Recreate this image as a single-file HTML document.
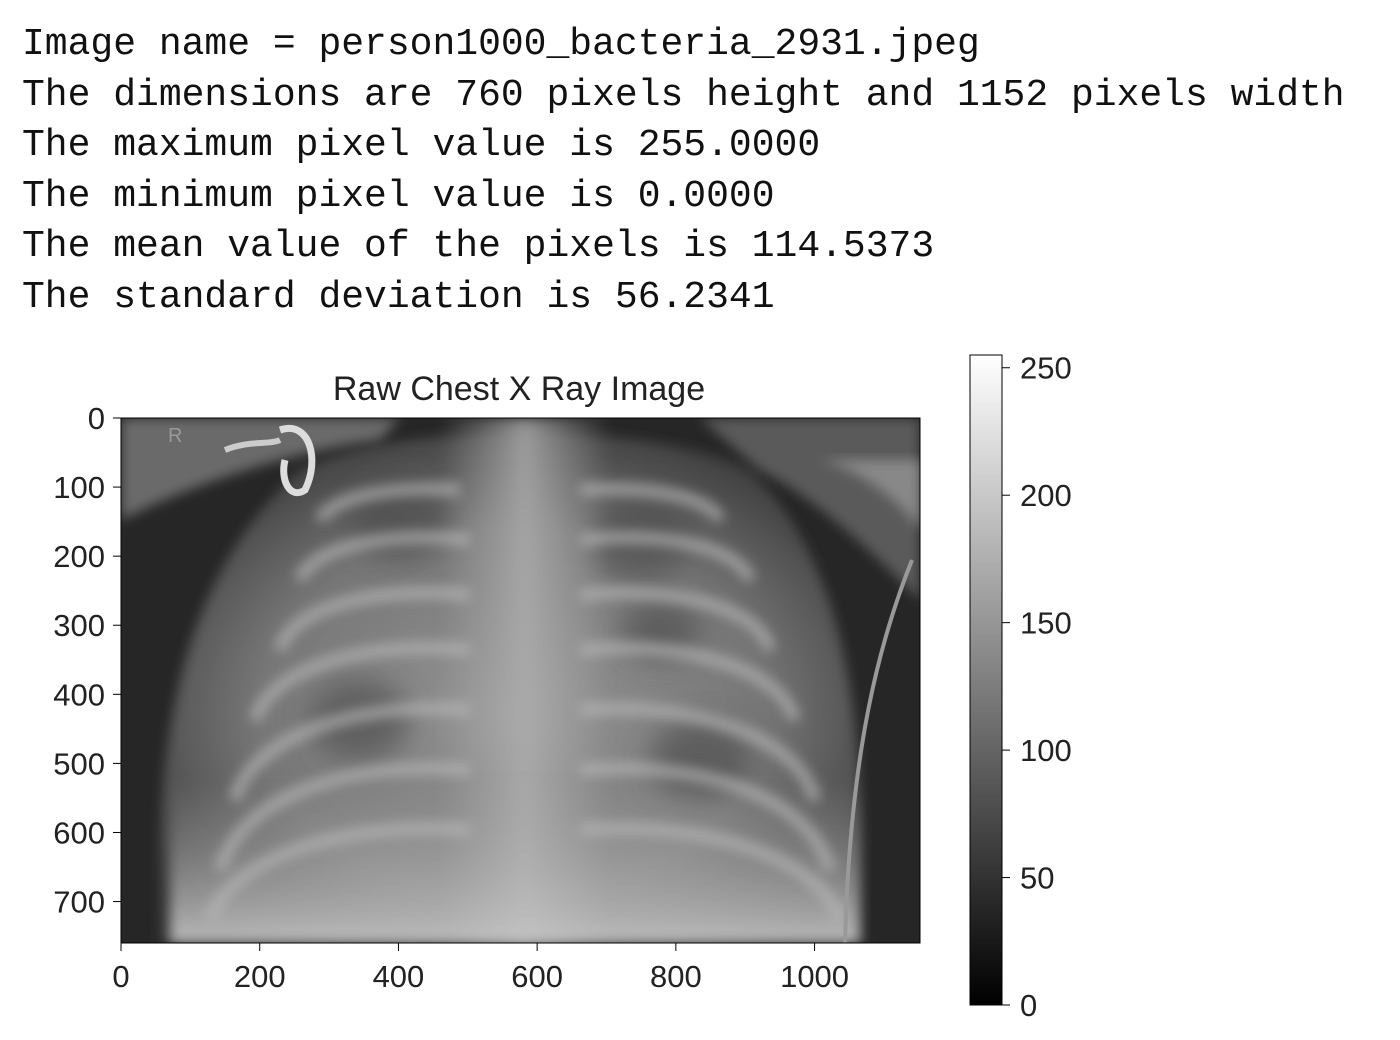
<!DOCTYPE html>
<html><head><meta charset="utf-8"><style>
html,body{margin:0;padding:0;background:#fff;width:1400px;height:1040px;overflow:hidden}
#info{position:absolute;left:22px;top:20px;font-family:"Liberation Mono",monospace;font-size:38px;line-height:50.6px;color:#111;white-space:pre}
svg{position:absolute;left:0;top:0}
</style></head><body>
<div id="info"><div>Image name = person1000_bacteria_2931.jpeg</div><div>The dimensions are 760 pixels height and 1152 pixels width</div><div>The maximum pixel value is 255.0000</div><div>The minimum pixel value is 0.0000</div><div>The mean value of the pixels is 114.5373</div><div>The standard deviation is 56.2341</div></div>
<svg id="chart" width="1400" height="1040">
<defs>
<linearGradient id="cbar" x1="0" y1="1" x2="0" y2="0"><stop offset="0" stop-color="#000"/><stop offset="1" stop-color="#fff"/></linearGradient>
<radialGradient id="body" cx="0.5" cy="0.55" r="0.6"><stop offset="0" stop-color="#959595"/><stop offset="0.6" stop-color="#767676"/><stop offset="1" stop-color="#3a3a3a"/></radialGradient>
<linearGradient id="abd" x1="0" y1="0" x2="0" y2="1"><stop offset="0" stop-color="#b0b0b0" stop-opacity="0"/><stop offset="1" stop-color="#c8c8c8" stop-opacity="0.9"/></linearGradient>
<linearGradient id="med" x1="0" y1="0" x2="1" y2="0"><stop offset="0" stop-color="#aaa" stop-opacity="0"/><stop offset="0.5" stop-color="#b0b0b0" stop-opacity="0.8"/><stop offset="1" stop-color="#aaa" stop-opacity="0"/></linearGradient>
<clipPath id="imgclip"><rect x="121" y="418" width="799" height="525"/></clipPath>
<filter id="blur"><feGaussianBlur stdDeviation="6"/></filter>
<filter id="blur2"><feGaussianBlur stdDeviation="14"/></filter>
</defs>
<g id="xray" clip-path="url(#imgclip)">
<rect x="121" y="418" width="799" height="525" fill="#262626"/>
<path d="M160 943 C150 700 200 560 300 470 C400 420 650 420 750 470 C840 560 870 700 860 943 Z" fill="url(#body)" filter="url(#blur)"/>
<path d="M121 418 L121 520 C200 480 300 450 380 440 L400 418 Z" fill="#6a6a6a" filter="url(#blur)"/>
<path d="M700 418 L760 470 C820 500 880 560 920 600 L920 418 Z" fill="#5a5a5a" filter="url(#blur)"/>
<path d="M820 460 C860 470 900 500 920 530 L920 460 Z" fill="#888" filter="url(#blur)"/>
<g fill="#4a4a4a" opacity="0.6" filter="url(#blur2)">
<ellipse cx="400" cy="520" rx="50" ry="40"/><ellipse cx="640" cy="540" rx="50" ry="40"/>
<ellipse cx="660" cy="630" rx="40" ry="30"/><ellipse cx="360" cy="720" rx="50" ry="40"/>
<ellipse cx="700" cy="760" rx="50" ry="40"/>
</g>
<rect x="440" y="418" width="170" height="525" fill="url(#med)" filter="url(#blur)"/>
<rect x="170" y="780" width="690" height="163" fill="url(#abd)" filter="url(#blur)"/>
<g stroke="#b8b8b8" stroke-width="12" fill="none" opacity="0.7" filter="url(#blur)">
<path d="M460 490 C380 485 330 500 320 520"/><path d="M470 540 C380 530 310 550 300 580"/>
<path d="M470 595 C370 585 290 610 280 650"/><path d="M470 650 C360 640 270 670 255 720"/>
<path d="M470 710 C350 700 250 740 235 800"/><path d="M470 770 C340 760 240 800 220 870"/>
<path d="M470 830 C340 820 230 860 210 920"/>
<path d="M580 490 C660 485 710 500 720 520"/><path d="M580 540 C670 530 740 550 750 580"/>
<path d="M580 595 C680 585 760 610 770 650"/><path d="M580 650 C690 640 780 670 795 720"/>
<path d="M580 710 C700 700 800 740 815 800"/><path d="M580 770 C710 760 810 800 830 870"/>
<path d="M580 830 C710 820 820 860 840 920"/>
</g>
<path d="M280 430 C310 420 320 460 305 490 C290 500 280 480 285 460" stroke="#ddd" stroke-width="7" fill="none"/>
<path d="M225 450 C250 440 270 445 280 440" stroke="#ccc" stroke-width="6" fill="none"/>
<path d="M912 560 C880 640 850 750 845 943" stroke="#999" stroke-width="4" fill="none"/>
<text x="168" y="442" font-family="Liberation Sans,sans-serif" font-size="20" fill="#999">R</text>
</g>
<rect x="121" y="418" width="799" height="525" fill="none" stroke="#000" stroke-width="1"/>
<text x="519" y="400" text-anchor="middle" font-family="Liberation Sans,sans-serif" font-size="34" fill="#222">Raw Chest X Ray Image</text>
<rect x="970" y="355" width="32" height="650" fill="url(#cbar)" stroke="#000" stroke-width="1"/>
<g id="axes"></g>
</svg>
<script>
const xTicks=[0,200,400,600,800,1000];
const yTicks=[0,100,200,300,400,500,600,700];
const cbTicks=[0,50,100,150,200,250];
const imgW=1152, imgH=760, cbMax=255;
const X0=121,X1=920,Y0=418,Y1=943,CB0=1005,CB1=355;
const xs=v=>X0+v/imgW*(X1-X0), ys=v=>Y0+v/imgH*(Y1-Y0), cs=v=>CB0-v/cbMax*(CB0-CB1);
const g=document.getElementById('axes'),NS='http://www.w3.org/2000/svg';
function mk(t,a){const e=document.createElementNS(NS,t);for(const k in a)e.setAttribute(k,a[k]);g.appendChild(e);return e;}
const font='Liberation Sans,sans-serif';
xTicks.forEach(v=>{const x=xs(v);
 const l=mk('line',{x1:x,x2:x,y1:Y1,y2:Y1+8,stroke:'#000'});
 
 
 const t=mk('text',{x:x,y:Y1+44,'text-anchor':'middle','font-family':font,'font-size':31,fill:'#222'});t.textContent=v;
 
 });
yTicks.forEach(v=>{const y=ys(v);
 const l=mk('line',{x1:X0-8,x2:X0,y1:y,y2:y,stroke:'#000'});
 
 
 const t=mk('text',{x:X0-16,y:y+11,'text-anchor':'end','font-family':font,'font-size':31,fill:'#222'});t.textContent=v;
 
 });
cbTicks.forEach(v=>{const y=cs(v);
 const l=mk('line',{x1:1002,x2:1010,y1:y,y2:y,stroke:'#000'});
 
 
 const t=mk('text',{x:1020,y:y+11,'font-family':font,'font-size':31,fill:'#222'});t.textContent=v;
 
 });
</script>
</body></html>
